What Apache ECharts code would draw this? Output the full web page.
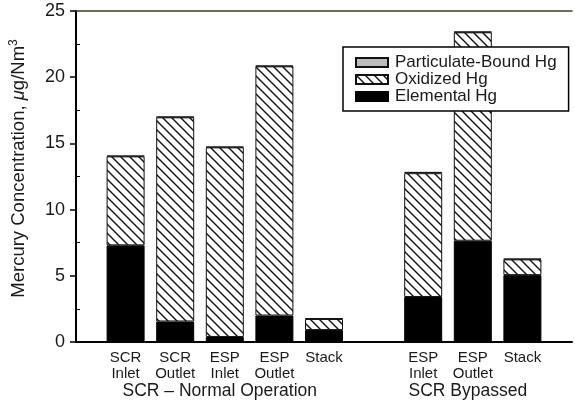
<!DOCTYPE html>
<html>
<head>
<meta charset="utf-8">
<script src="https://cdn.jsdelivr.net/npm/echarts@6/dist/echarts.min.js"></script>
<style>
  html, body { margin: 0; padding: 0; background: #fff; }
  #chart { width: 575px; height: 405px; }
</style>
</head>
<body>
<div id="chart"></div>
<script>
// categories (empty slots give the gaps at the ends and between the groups)
const categories = ['', 'SCR\nInlet', 'SCR\nOutlet', 'ESP\nInlet', 'ESP\nOutlet', 'Stack', '', 'ESP\nInlet', 'ESP\nOutlet', 'Stack', '']
const groupLabels = ['', '', '', 'SCR – Normal Operation', '', '', '', '', 'SCR Bypassed', '', '']

// µg/Nm3
const elemental = [null, 7.3, 1.55, 0.38, 2.0, 0.9, null, 3.4, 7.65, 5.05, null]
const oxidized = [null, 6.72, 15.42, 14.32, 18.82, 0.84, null, 9.35, 15.74, 1.19, null]
const particulate = [null, 0.05, 0.05, 0.05, 0.05, 0.05, null, 0.1, 0.05, 0.05, null]

const yTicks = [0, 5, 10, 15, 20, 25]
const yMinorTicks = [2.5, 7.5, 12.5, 17.5, 22.5]

const font = 'Liberation Sans, Arial, sans-serif'
const textColor = '#1a1a1a'

// diagonal hatch for oxidized Hg
function hatch() {
  const s = 9
  const c = document.createElement('canvas')
  c.width = s
  c.height = s
  const ctx = c.getContext('2d')
  ctx.fillStyle = '#fff'
  ctx.fillRect(0, 0, s, s)
  ctx.strokeStyle = '#111'
  ctx.lineWidth = 1.4
  ctx.beginPath()
  ctx.moveTo(-1, -1)
  ctx.lineTo(s + 1, s + 1)
  ctx.moveTo(-2, s - 2)
  ctx.lineTo(2, s + 2)
  ctx.moveTo(s - 2, -2)
  ctx.lineTo(s + 2, 2)
  ctx.stroke()
  return { image: c, repeat: 'repeat' }
}

const chart = echarts.init(document.getElementById('chart'))
const option = {
  animation: false,
  textStyle: { fontFamily: font, color: textColor },
  grid: { left: 71, right: -3, top: 11, bottom: 63 },
  legend: {
    orient: 'vertical',
    left: 343,
    top: 47,
    icon: 'rect',
    itemWidth: 32,
    itemHeight: 9,
    itemGap: 0,
    padding: [7, 12, 6, 12],
    borderColor: '#000',
    borderWidth: 1.5,
    backgroundColor: '#fff',
    data: ['Particulate-Bound Hg', 'Oxidized Hg', 'Elemental Hg'],
    textStyle: { fontFamily: font, fontSize: 17, lineHeight: 16, color: textColor, padding: [0, 0, 0, 2] },
    z: 10
  },
  xAxis: [
    {
      type: 'category',
      data: categories,
      boundaryGap: false,
      axisLine: { lineStyle: { color: '#000', width: 2 } },
      axisTick: { show: false },
      axisLabel: { interval: 0, margin: 8, fontSize: 15, lineHeight: 16, color: textColor, fontFamily: font }
    },
    {
      type: 'category',
      data: groupLabels,
      boundaryGap: false,
      position: 'bottom',
      axisLine: { show: false },
      axisTick: { show: false },
      axisLabel: { interval: 0, margin: 40, fontSize: 17.5, color: textColor, fontFamily: font, padding: [0, 10, 0, 0] }
    },
    {
      type: 'category',
      data: categories,
      boundaryGap: false,
      position: 'top',
      axisLine: { lineStyle: { color: '#3d3d22', width: 1.5 } },
      axisTick: { show: false },
      axisLabel: { show: false }
    }
  ],
  yAxis: [
    {
      type: 'value',
      min: 0,
      max: 25,
      interval: 5,
      name: '{n|Mercury Concentration, }{i|μ}{n|g/Nm}{s|3}',
      nameLocation: 'middle',
      nameRotate: 90,
      nameGap: 47,
      nameTextStyle: {
        padding: [0, 0, 0, 16],
        rich: {
          n: { fontSize: 18.5, fontFamily: font, color: textColor },
          i: { fontSize: 18.5, fontFamily: font, fontStyle: 'italic', color: textColor },
          s: { fontSize: 12, fontFamily: font, color: textColor, verticalAlign: 'top', padding: [0, 0, 9, 0] }
        }
      },
      axisLine: { show: true, lineStyle: { color: '#000', width: 2 } },
      axisTick: { show: true, length: 6, lineStyle: { color: '#000', width: 1.5 } },
      axisLabel: {
        margin: 11,
        fontSize: 18,
        color: textColor,
        fontFamily: font,
        customValues: yTicks
      },
      splitLine: { show: false }
    },
    {
      type: 'value',
      min: 0,
      max: 25,
      position: 'left',
      axisLine: { show: false },
      axisTick: { show: true, inside: true, length: 4, customValues: yMinorTicks, lineStyle: { color: '#000', width: 1 } },
      axisLabel: { show: false },
      splitLine: { show: false }
    }
  ],
  series: [
    {
      name: 'Elemental Hg',
      type: 'bar',
      stack: 'hg',
      barWidth: 38,
      data: elemental,
      itemStyle: { color: '#000', borderColor: '#000', borderWidth: 1 }
    },
    {
      name: 'Oxidized Hg',
      type: 'bar',
      stack: 'hg',
      barWidth: 38,
      data: oxidized,
      itemStyle: { color: hatch(), borderColor: '#111', borderWidth: 1 }
    },
    {
      name: 'Particulate-Bound Hg',
      type: 'bar',
      stack: 'hg',
      barWidth: 38,
      data: particulate,
      itemStyle: { color: '#bdbdbd', borderColor: '#111', borderWidth: 1 }
    }
  ]
}
chart.setOption(option)
window.addEventListener('resize', function() {
  chart.resize()
})
</script>
</body>
</html>
